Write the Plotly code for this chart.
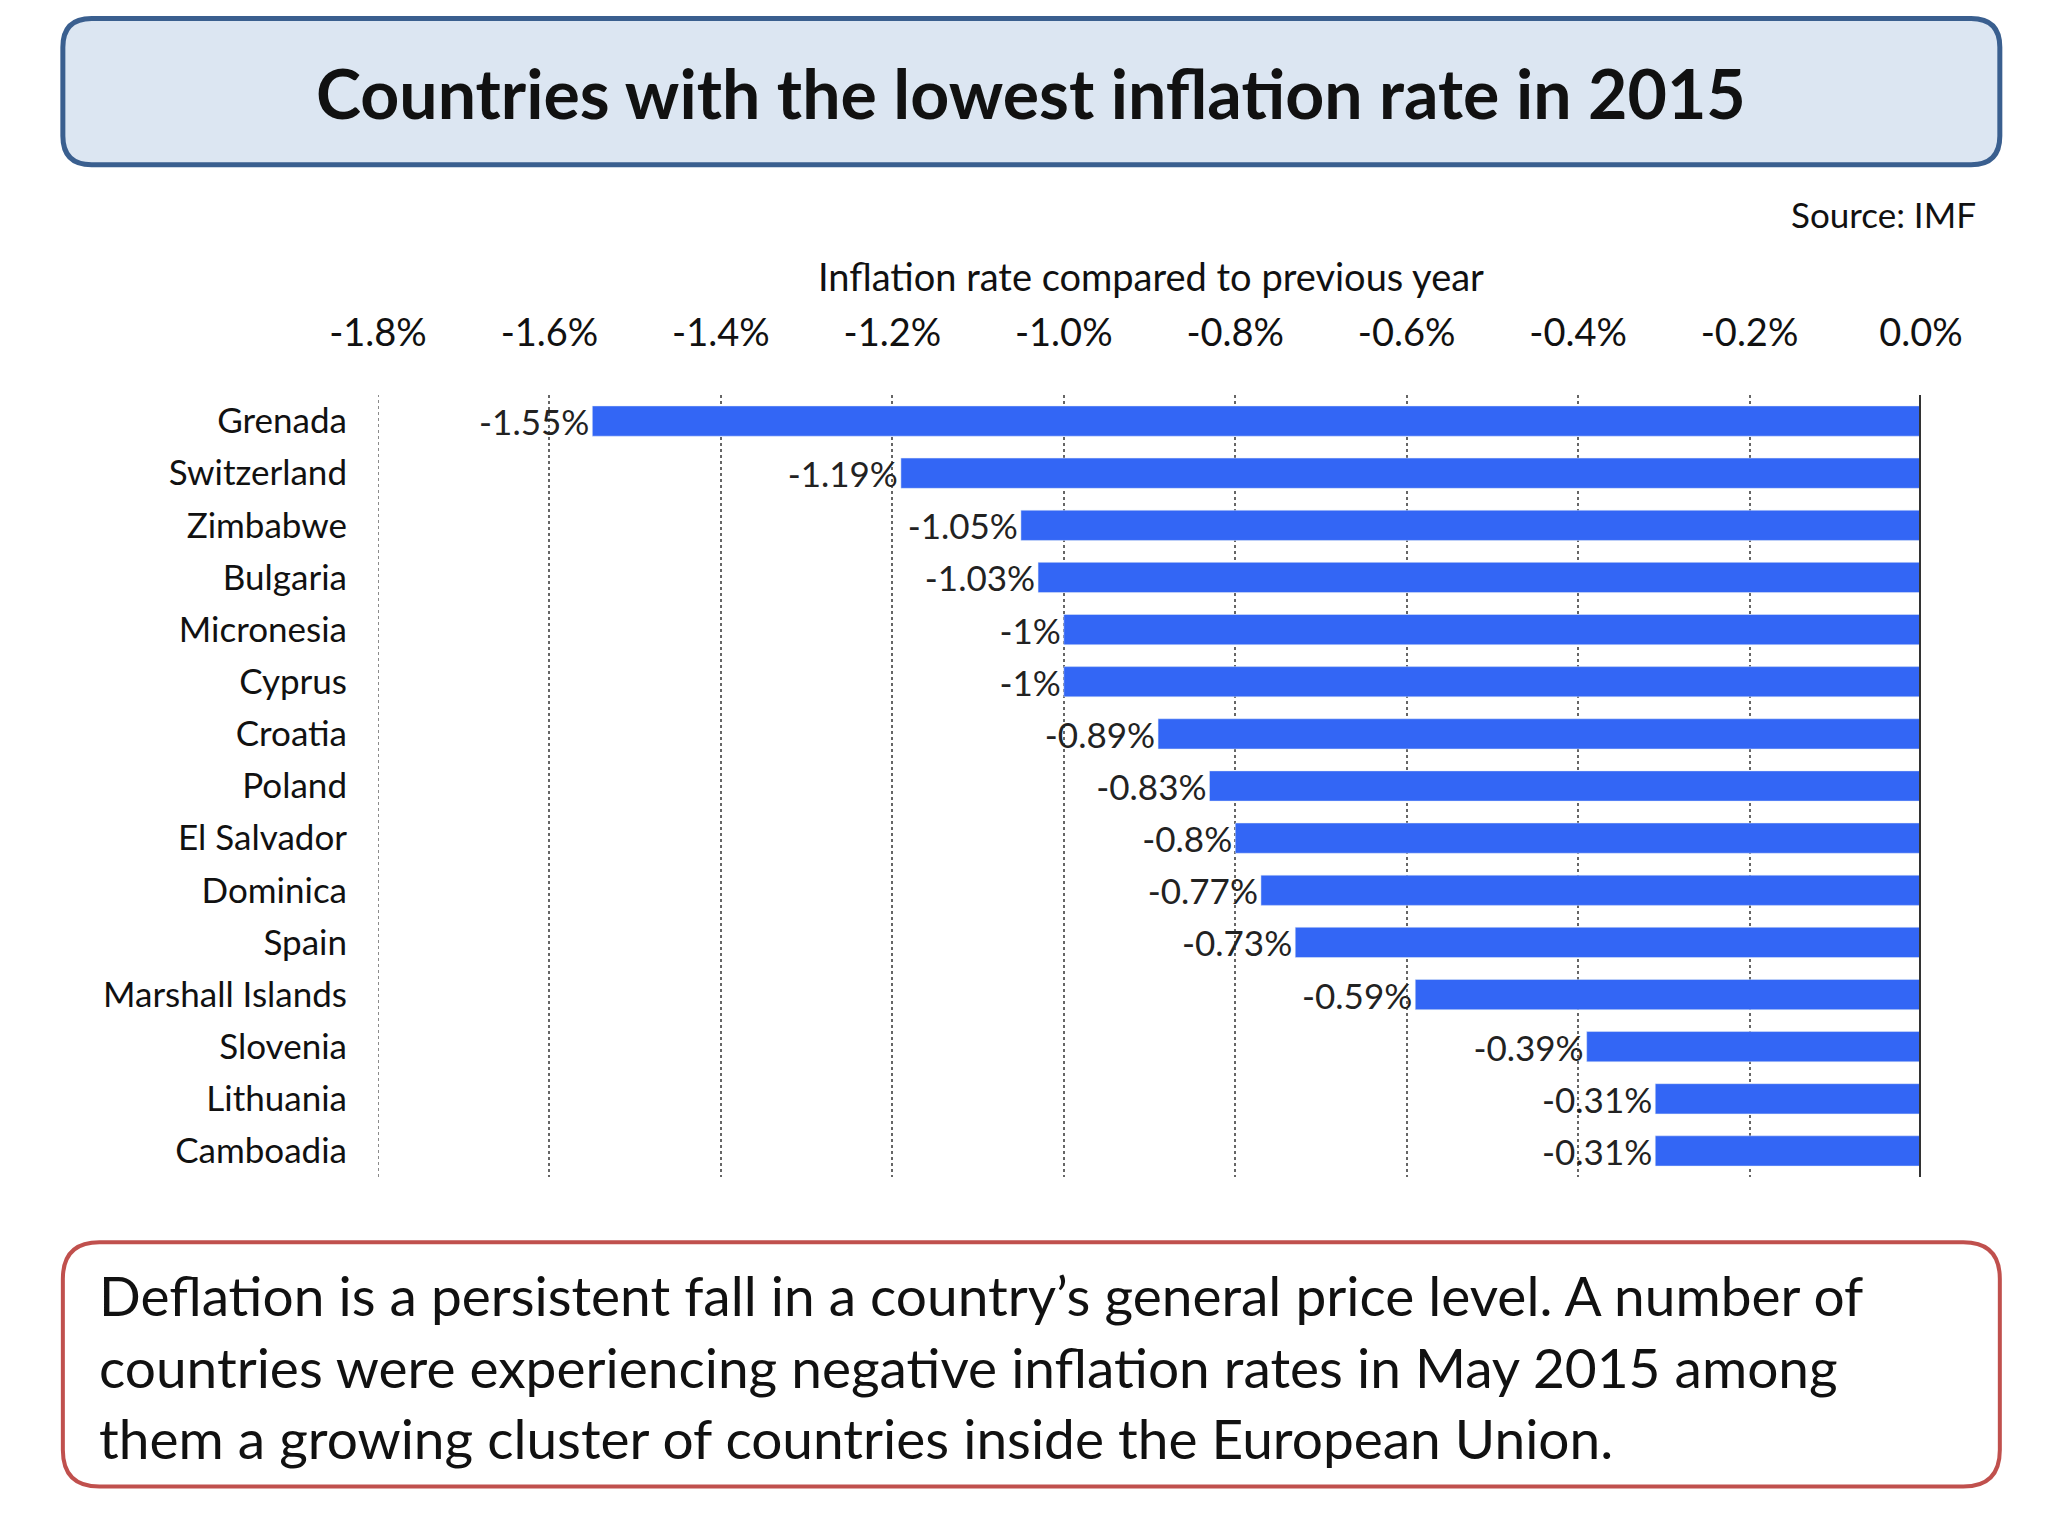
import plotly.graph_objects as go

countries = ["Grenada","Switzerland","Zimbabwe","Bulgaria","Micronesia","Cyprus","Croatia","Poland",
             "El Salvador","Dominica","Spain","Marshall Islands","Slovenia","Lithuania","Camboadia"]
rates = [-1.55,-1.19,-1.05,-1.03,-1.0,-1.0,-0.89,-0.83,-0.8,-0.77,-0.73,-0.59,-0.39,-0.31,-0.31]
labels = ["-1.55%","-1.19%","-1.05%","-1.03%","-1%","-1%","-0.89%","-0.83%","-0.8%","-0.77%","-0.73%","-0.59%","-0.39%","-0.31%","-0.31%"]
tickvals = [-1.8,-1.6,-1.4,-1.2,-1.0,-0.8,-0.6,-0.4,-0.2,0.0]
ticktext = ["-1.8%","-1.6%","-1.4%","-1.2%","-1.0%","-0.8%","-0.6%","-0.4%","-0.2%","0.0%"]

W, H = 2048, 1536
S = 2048/1568
L, R, T, B = round(283*S), W-round(1465*S), round(296*S), H-round(895*S)
pw, ph = W-L-R, H-T-B
FONT = "Lato"

def px(x): return (x*S - L)/pw
def py(y): return 1 - (y*S - T)/ph

def rrect(x0,y0,x1,y1,r):
    def P(x,y): return f"{px(x):.5f},{py(y):.5f}"
    return (f"M {P(x0+r,y0)} L {P(x1-r,y0)} Q {P(x1,y0)} {P(x1,y0+r)} L {P(x1,y1-r)} "
            f"Q {P(x1,y1)} {P(x1-r,y1)} L {P(x0+r,y1)} Q {P(x0,y1)} {P(x0,y1-r)} "
            f"L {P(x0,y0+r)} Q {P(x0,y0)} {P(x0+r,y0)} Z")

fig = go.Figure(go.Bar(
    y=countries, x=rates, orientation="h", marker_color="#3366F5",
    text=labels, textposition="outside", cliponaxis=False, constraintext="none",
    textfont=dict(size=35, color="#222", family=FONT)))

fig.update_layout(
    width=W, height=H, margin=dict(l=L, r=R, t=T, b=B),
    paper_bgcolor="white", plot_bgcolor="white", bargap=0.42, showlegend=False,
    uniformtext=dict(mode=False),
    font=dict(family=FONT, color="#111"),
    xaxis=dict(range=[-1.8,0.0], side="top", tickvals=tickvals, ticktext=ticktext,
               tickfont=dict(size=38), ticklabelstandoff=40, showgrid=True, gridcolor="#666",
               griddash="dot", gridwidth=1.5, zeroline=False, showline=False),
    yaxis=dict(autorange="reversed", tickfont=dict(size=35), ticklabelstandoff=30, showgrid=False),
    shapes=[
        dict(type="path", xref="paper", yref="paper", path=rrect(42,8,1525,120,22),
             fillcolor="#DCE6F2", line=dict(color="#3A5F8F", width=5), layer="below"),
        dict(type="path", xref="paper", yref="paper", path=rrect(42,945,1525,1132,28),
             fillcolor="white", line=dict(color="#C0504D", width=4), layer="below"),
        dict(type="line", xref="x", yref="paper", x0=-1.8, x1=-1.8, y0=0, y1=1,
             line=dict(color="#666", width=1.5, dash="dot")),
        dict(type="line", xref="x", yref="paper", x0=0, x1=0, y0=0, y1=1,
             line=dict(color="#333", width=4)),
    ],
    annotations=[
        dict(xref="paper", yref="paper", x=px(783), y=py(65), yanchor="middle", xanchor="center",
             text="<b>Countries with the lowest inflation rate in 2015</b>",
             showarrow=False, font=dict(size=68, color="#111")),
        dict(xref="paper", yref="paper", x=px(1508), y=py(158), xanchor="right", yanchor="middle",
             text="Source: IMF", showarrow=False, font=dict(size=35)),
        dict(xref="paper", yref="paper", x=px(875), y=py(205), xanchor="center", yanchor="middle",
             text="Inflation rate compared to previous year", showarrow=False, font=dict(size=38)),
        dict(xref="paper", yref="paper", x=px(68), y=py(1040), xanchor="left", yanchor="middle", align="left",
             text="Deflation is a persistent fall in a country’s general price level. A number of<br>"
                  "countries were experiencing negative inflation rates in May 2015 among<br>"
                  "them a growing cluster of countries inside the European Union.",
             showarrow=False, font=dict(size=55, color="#111")),
    ])
fig.write_html("out.html")
